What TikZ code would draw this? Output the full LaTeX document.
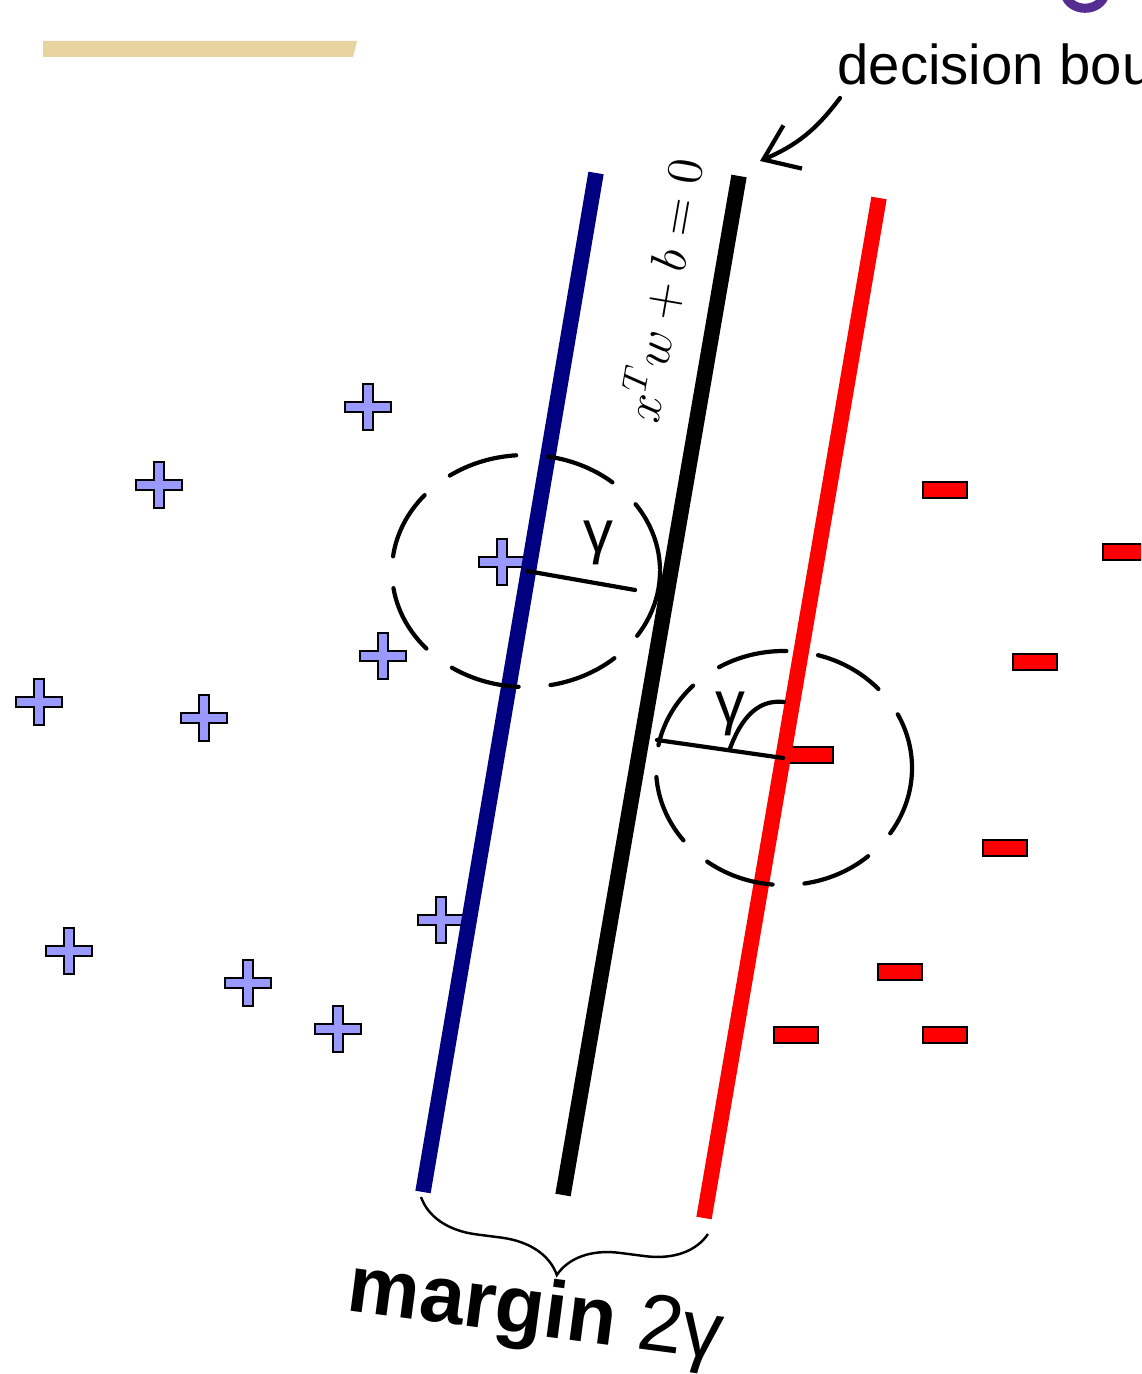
\documentclass[tikz,border=0pt]{standalone}
\usepackage{fontspec}
\newfontfamily\labelfont{Liberation Sans}
\usetikzlibrary{arrows.meta,decorations.pathreplacing}
\definecolor{plusfill}{RGB}{153,153,255}
\definecolor{marginblue}{RGB}{0,0,128}
\definecolor{tanbar}{RGB}{232,212,160}
\definecolor{titlepurple}{RGB}{85,45,145}
\tikzset{
  svmline/.style={line width=1.55mm},
  handline/.style={line width=1.2pt, line cap=round},
  handdash/.style={handline, dash pattern=on 7mm off 3.2mm},
  plusmark/.pic={\filldraw[fill=plusfill, draw=black, line width=0.6pt]
    (-5,-23) -- (5,-23) -- (5,-5) -- (23,-5) -- (23,5) -- (5,5) -- (5,23)
    -- (-5,23) -- (-5,5) -- (-23,5) -- (-23,-5) -- (-5,-5) -- cycle;},
  minusmark/.pic={\filldraw[fill=red, draw=black, line width=0.8pt] (-22,-8) rectangle (22,8);}
}
\begin{document}
\begin{tikzpicture}[x=0.1mm,y=-0.1mm]
\useasboundingbox (0,0) rectangle (1141,1374);
\clip (0,0) rectangle (1141,1374);

% slide header remains
\fill[tanbar] (43,41) -- (357,41) -- (353,57) -- (43,57) -- cycle;
\draw[titlepurple, line width=2.6pt] (1065,-6) .. controls (1070,13) and (1100,13) .. (1105,-6);

% training points
\foreach \px/\py in {368/407, 159/485, 502/562, 383/656, 39/702, 204/718, 441/920, 69/951, 248/983, 338/1029}
  \pic at (\px,\py) {plusmark};
\foreach \px/\py in {945/490, 1125/552, 1035/662, 811/755, 1005/848, 900/972, 796/1035, 945/1035}
  \pic at (\px,\py) {minusmark};

% margin lines and separator
\coordinate (bluetop) at (596,173);
\coordinate (bluebot) at (423,1192);
\coordinate (septop) at (739,176);
\coordinate (sepbot) at (563,1195);
\coordinate (redtop) at (879,198);
\coordinate (redbot) at (704,1218);
\draw[svmline, marginblue] (bluetop) -- (bluebot);
\draw[svmline, black] (septop) -- (sepbot);
\draw[svmline, red] (redtop) -- (redbot);
\node[rotate=80.2] (hyperlabel) at (662,290) {\Large $x^Tw+b=0$};

% margin brace
\draw[decorate, decoration={brace, mirror, amplitude=6mm}, line width=0.7pt] (421,1197) -- (708,1234);
\node[anchor=base, rotate=-7.5, font=\labelfont\fontsize{23}{27}\selectfont] (marginlabel) at (533,1335) {\textbf{margin} 2γ};

% handwritten notes
\node[anchor=base west, inner sep=0pt, font=\labelfont\fontsize{16}{19}\selectfont] (boundarynote) at (837,85) {decision boundary};
\coordinate (notefrom) at (840,98);
\coordinate (notetip) at (760,161);
\draw[handline, -{Straight Barb[length=3.2mm,width=4.7mm]}] (notefrom) to[bend left=15] (notetip);

\draw[handdash] (526,571) ellipse [x radius=134, y radius=116];
\coordinate (gapAfrom) at (527,571);
\coordinate (gapAto) at (635,590);
\draw[handline] (gapAfrom) -- (gapAto);
\node[font=\labelfont\fontsize{17}{20}\selectfont] (gammaA) at (598,543) {γ};

\draw[handdash] (784,768) ellipse [x radius=128, y radius=117];
\coordinate (gapBfrom) at (657,740);
\coordinate (gapBto) at (783,758);
\draw[handline] (gapBfrom) -- (gapBto);
\node[font=\labelfont\fontsize{17}{20}\selectfont] (gammaB) at (730,714) {γ};
\draw[handline] (gammaB.south) .. controls (745,708) and (765,700) .. (784,702);
\end{tikzpicture}
\end{document}
